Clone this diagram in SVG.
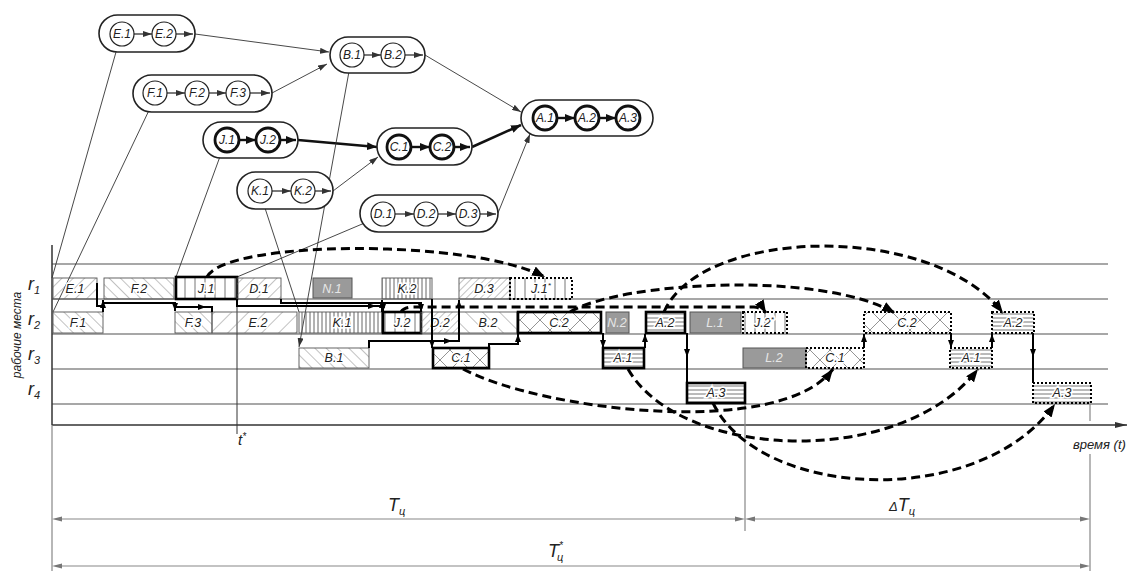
<svg xmlns="http://www.w3.org/2000/svg" width="1129" height="571" viewBox="0 0 1129 571">
<style>
.grid{stroke:#8a8a8a;stroke-width:1.3;fill:none}
.pill{fill:#fff;stroke:#222;stroke-width:1.6}
.c{fill:#fff;stroke:#222;stroke-width:1.2}
.ct{fill:#fff;stroke:#111;stroke-width:2.8}
.lbl{font-family:"Liberation Sans",Arial,sans-serif;font-style:italic;font-size:12px;text-anchor:middle;fill:#222}
.edge{stroke:#333;stroke-width:0.9;fill:none}
.edgeT{stroke:#111;stroke-width:2.6;fill:none}
.ia{stroke:#222;stroke-width:1.2;fill:none}
.iaT{stroke:#111;stroke-width:2.4;fill:none}
.bar{stroke:#555;stroke-width:0.9}
.barT{stroke:#000;stroke-width:2.6}
.barD{stroke:#000;stroke-width:2;stroke-dasharray:2 2}
.gray{fill:#9a9a9a;stroke:#555;stroke-width:1}
.flow{stroke:#000;stroke-width:2;fill:none}
.dash{stroke:#000;stroke-width:3;stroke-dasharray:9 5;fill:none}
.blbl{font-family:"Liberation Sans",Arial,sans-serif;font-style:italic;font-size:12.5px;text-anchor:middle;fill:#222;paint-order:stroke;stroke:#fff;stroke-width:3px}
.glbl{font-family:"Liberation Sans",Arial,sans-serif;font-style:italic;font-size:12.5px;text-anchor:middle;fill:#e6e6e6}
.dim{stroke:#888;stroke-width:1.2;fill:none}
.txt{font-family:"Liberation Sans",Arial,sans-serif;font-style:italic;fill:#222}
</style>
<defs>
<pattern id="hR8" width="8" height="8" patternUnits="userSpaceOnUse" patternTransform="rotate(45)"><line x1="0" y1="0" x2="0" y2="8" stroke="#777" stroke-width="0.9"/></pattern>
<pattern id="hR5" width="5" height="5" patternUnits="userSpaceOnUse" patternTransform="rotate(45)"><line x1="0" y1="0" x2="0" y2="5" stroke="#777" stroke-width="0.9"/></pattern>
<pattern id="hR12" width="12" height="12" patternUnits="userSpaceOnUse" patternTransform="rotate(45)"><line x1="0" y1="0" x2="0" y2="12" stroke="#777" stroke-width="0.9"/></pattern>
<pattern id="hL8" width="8" height="8" patternUnits="userSpaceOnUse" patternTransform="rotate(-45)"><line x1="0" y1="0" x2="0" y2="8" stroke="#777" stroke-width="0.9"/></pattern>
<pattern id="hL12" width="12" height="12" patternUnits="userSpaceOnUse" patternTransform="rotate(-45)"><line x1="0" y1="0" x2="0" y2="12" stroke="#777" stroke-width="0.9"/></pattern>
<pattern id="vD" width="4" height="10" patternUnits="userSpaceOnUse"><line x1="2" y1="0" x2="2" y2="10" stroke="#555" stroke-width="0.9"/></pattern>
<pattern id="vS" width="10" height="10" patternUnits="userSpaceOnUse"><line x1="5" y1="0" x2="5" y2="10" stroke="#666" stroke-width="0.9"/></pattern>
<pattern id="cx" width="20" height="20" patternUnits="userSpaceOnUse"><path d="M0,0 L20,20 M20,0 L0,20" stroke="#888" stroke-width="0.9" fill="none"/></pattern>
<pattern id="hz" width="10" height="4" patternUnits="userSpaceOnUse"><line x1="0" y1="2" x2="10" y2="2" stroke="#666" stroke-width="0.9"/></pattern>
<marker id="aS" markerUnits="userSpaceOnUse" markerWidth="9" markerHeight="6" refX="9" refY="3" orient="auto"><path d="M0,0 L9,3 L0,6 Z" fill="#333"/></marker>
<marker id="aT" markerUnits="userSpaceOnUse" markerWidth="10" markerHeight="8" refX="10" refY="4" orient="auto"><path d="M0,0 L10,4 L0,8 Z" fill="#111"/></marker>
<marker id="aF" markerUnits="userSpaceOnUse" markerWidth="8" markerHeight="6" refX="8" refY="3" orient="auto"><path d="M0,0 L8,3 L0,6 Z" fill="#000"/></marker>
<marker id="aD" markerUnits="userSpaceOnUse" markerWidth="13" markerHeight="10" refX="13" refY="5" orient="auto"><path d="M0,0 L13,5 L0,10 Z" fill="#000"/></marker>
<marker id="aX" markerUnits="userSpaceOnUse" markerWidth="12" markerHeight="6" refX="12" refY="3" orient="auto"><path d="M0,0 L12,3 L0,6 Z" fill="#333"/></marker>
</defs>

<!-- grid and axes -->
<g id="grid">
<path class="grid" d="M52,264 H1108 M52,299 H1108 M52,334 H1108 M52,369 H1108 M52,404 H1108"/>
<path d="M52,245 V425" stroke="#333" stroke-width="1.5" fill="none"/>
<path d="M52,425 H1127" stroke="#333" stroke-width="1.6" fill="none" marker-end="url(#aX)"/>
<path d="M237,278 V434" stroke="#333" stroke-width="1" fill="none"/>
<path class="dim" d="M52,425 V571 M745,400 V531 M1090,404 V421 M1090,454 V571"/>
</g>

<!-- graph connectors -->
<g id="connectors">
<path class="edge" d="M195,34 L329,52" marker-end="url(#aS)"/>
<path class="edge" d="M272,93 L327,64" marker-end="url(#aS)"/>
<path class="edge" d="M425,55 L521,112" marker-end="url(#aS)"/>
<path class="edgeT" d="M298,140 L377,147" marker-end="url(#aT)"/>
<path class="edge" d="M333,191 L378,157" marker-end="url(#aS)"/>
<path class="edgeT" d="M472,147 L521,125" marker-end="url(#aT)"/>
<path class="edge" d="M498,213 L530,134" marker-end="url(#aS)"/>
<path class="edge" d="M118,45 L52,278"/>
<path class="edge" d="M152,104 L53,312"/>
<path class="edge" d="M222,151 L176,277"/>
<path class="edge" d="M374,219 L237,277"/>
<path class="edge" d="M263,202 L299,312"/>
<path class="edge" d="M350,66 L299,347" marker-end="url(#aS)"/>
</g>

<!-- graph nodes -->
<g id="nodeE">
<rect class="pill" x="99" y="15" width="96" height="37" rx="18.5"/>
<circle class="c" cx="122" cy="34" r="12"/><circle class="c" cx="164" cy="34" r="12"/>
<path class="ia" d="M134,34 H152" marker-end="url(#aS)"/><path class="ia" d="M176,34 H193" marker-end="url(#aS)"/>
<text class="lbl" x="122" y="38">E.1</text><text class="lbl" x="164" y="38">E.2</text>
</g>
<g id="nodeB">
<rect class="pill" x="330" y="37" width="95" height="36" rx="18"/>
<circle class="c" cx="352" cy="55" r="12"/><circle class="c" cx="393" cy="55" r="12"/>
<path class="ia" d="M364,55 H381" marker-end="url(#aS)"/><path class="ia" d="M405,55 H423" marker-end="url(#aS)"/>
<text class="lbl" x="352" y="59">B.1</text><text class="lbl" x="393" y="59">B.2</text>
</g>
<g id="nodeF">
<rect class="pill" x="133" y="75" width="139" height="37" rx="18.5"/>
<circle class="c" cx="155" cy="93" r="12"/><circle class="c" cx="197" cy="93" r="12"/><circle class="c" cx="238" cy="93" r="12"/>
<path class="ia" d="M167,93 H185" marker-end="url(#aS)"/><path class="ia" d="M209,93 H226" marker-end="url(#aS)"/><path class="ia" d="M250,93 H270" marker-end="url(#aS)"/>
<text class="lbl" x="155" y="97">F.1</text><text class="lbl" x="197" y="97">F.2</text><text class="lbl" x="238" y="97">F.3</text>
</g>
<g id="nodeA">
<rect class="pill" x="521" y="100" width="132" height="36" rx="18"/>
<circle class="ct" cx="545" cy="118" r="12"/><circle class="ct" cx="587" cy="118" r="12"/><circle class="ct" cx="628" cy="118" r="12"/>
<path class="iaT" d="M557,118 H575" marker-end="url(#aT)"/><path class="iaT" d="M599,118 H616" marker-end="url(#aT)"/>
<text class="lbl" x="545" y="122">A.1</text><text class="lbl" x="587" y="122">A.2</text><text class="lbl" x="628" y="122">A.3</text>
</g>
<g id="nodeC">
<rect class="pill" x="377" y="128" width="95" height="37" rx="18.5"/>
<circle class="ct" cx="399" cy="147" r="12"/><circle class="ct" cx="442" cy="147" r="12"/>
<path class="iaT" d="M411,147 H430" marker-end="url(#aT)"/><path class="iaT" d="M454,147 H470" marker-end="url(#aT)"/>
<text class="lbl" x="399" y="151">C.1</text><text class="lbl" x="442" y="151">C.2</text>
</g>
<g id="nodeJ">
<rect class="pill" x="203" y="122" width="95" height="36" rx="18"/>
<circle class="ct" cx="227" cy="140" r="12"/><circle class="ct" cx="268" cy="140" r="12"/>
<path class="iaT" d="M239,140 H256" marker-end="url(#aT)"/><path class="iaT" d="M280,140 H296" marker-end="url(#aT)"/>
<text class="lbl" x="227" y="144">J.1</text><text class="lbl" x="268" y="144">J.2</text>
</g>
<g id="nodeK">
<rect class="pill" x="237" y="172" width="96" height="37" rx="18.5"/>
<circle class="c" cx="260" cy="191" r="12"/><circle class="c" cx="303" cy="191" r="12"/>
<path class="ia" d="M272,191 H291" marker-end="url(#aS)"/><path class="ia" d="M315,191 H331" marker-end="url(#aS)"/>
<text class="lbl" x="260" y="195">K.1</text><text class="lbl" x="303" y="195">K.2</text>
</g>
<g id="nodeD">
<rect class="pill" x="360" y="195" width="138" height="37" rx="18.5"/>
<circle class="c" cx="383" cy="214" r="12"/><circle class="c" cx="426" cy="214" r="12"/><circle class="c" cx="468" cy="214" r="12"/>
<path class="ia" d="M395,214 H414" marker-end="url(#aS)"/><path class="ia" d="M438,214 H456" marker-end="url(#aS)"/><path class="ia" d="M480,214 H496" marker-end="url(#aS)"/>
<text class="lbl" x="383" y="218">D.1</text><text class="lbl" x="426" y="218">D.2</text><text class="lbl" x="468" y="218">D.3</text>
</g>

<!-- Gantt bars -->
<g id="bars">
<rect class="bar" x="53" y="278" width="44" height="21" fill="url(#hR8)"/><text class="blbl" x="75" y="293">E.1</text>
<rect class="bar" x="104" y="278" width="70" height="21" fill="url(#hL8)"/><text class="blbl" x="139" y="293">F.2</text>
<rect class="barT" x="176" y="277" width="61" height="22" fill="url(#vS)"/><text class="blbl" x="206" y="293">J.1</text>
<rect class="bar" x="237" y="278" width="44" height="21" fill="url(#hR8)"/><text class="blbl" x="259" y="293">D.1</text>
<rect class="gray" x="313" y="278" width="39" height="20"/><text class="glbl" x="332" y="293">N.1</text>
<rect class="bar" x="382" y="278" width="50" height="21" fill="url(#vD)"/><text class="blbl" x="407" y="293">K.2</text>
<rect class="bar" x="459" y="278" width="51" height="21" fill="url(#hR5)"/><text class="blbl" x="484" y="293">D.3</text>
<rect class="barD" x="510" y="278" width="62" height="21" fill="url(#vS)"/><text class="blbl" x="541" y="293">J.1<tspan font-size="8" dy="-5">*</tspan></text>

<rect class="bar" x="53" y="312" width="50" height="21" fill="url(#hL8)"/><text class="blbl" x="78" y="327">F.1</text>
<rect class="bar" x="175" y="312" width="37" height="21" fill="url(#hL8)"/><text class="blbl" x="193" y="327">F.3</text>
<rect class="bar" x="212" y="312" width="85" height="21" fill="url(#hR12)"/><text class="blbl" x="258" y="327">E.2</text>
<rect class="bar" x="299" y="312" width="83" height="21" fill="url(#vD)"/><text class="blbl" x="342" y="327">K.1</text>
<rect class="barT" x="383" y="312" width="38" height="21" fill="url(#vS)"/><text class="blbl" x="402" y="327">J.2</text>
<rect class="bar" x="421" y="312" width="38" height="21" fill="url(#hR5)"/><text class="blbl" x="440" y="327">D.2</text>
<rect class="bar" x="459" y="312" width="58" height="21" fill="url(#hL12)"/><text class="blbl" x="488" y="327">B.2</text>
<rect class="barT" x="518" y="312" width="83" height="21" fill="url(#cx)"/><text class="blbl" x="559" y="327">C.2</text>
<rect class="gray" x="606" y="312" width="23" height="21"/><text class="glbl" x="617" y="327">N.2</text>
<rect class="barT" x="646" y="312" width="39" height="21" fill="url(#hz)"/><text class="blbl" x="665" y="327">A.2</text>
<rect class="gray" x="690" y="312" width="51" height="21"/><text class="glbl" x="715" y="327">L.1</text>
<rect class="barD" x="743" y="312" width="44" height="21" fill="url(#vS)"/><text class="blbl" x="764" y="327">J.2<tspan font-size="8" dy="-5">*</tspan></text>
<rect class="barD" x="864" y="312" width="87" height="21" fill="url(#cx)"/><text class="blbl" x="907" y="327">C.2</text>
<rect class="barD" x="992" y="312" width="42" height="21" fill="url(#hz)"/><text class="blbl" x="1013" y="327">A.2</text>

<rect class="bar" x="299" y="348" width="70" height="20" fill="url(#hL8)"/><text class="blbl" x="334" y="362">B.1</text>
<rect class="barT" x="433" y="348" width="56" height="20" fill="url(#cx)"/><text class="blbl" x="461" y="362">C.1</text>
<rect class="barT" x="603" y="348" width="41" height="20" fill="url(#hz)"/><text class="blbl" x="623" y="362">A.1</text>
<rect class="gray" x="743" y="348" width="63" height="20"/><text class="glbl" x="774" y="362">L.2</text>
<rect class="barD" x="806" y="348" width="58" height="20" fill="url(#cx)"/><text class="blbl" x="835" y="362">C.1</text>
<rect class="barD" x="950" y="348" width="42" height="20" fill="url(#hz)"/><text class="blbl" x="971" y="362">A.1</text>

<rect class="barT" x="687" y="383" width="58" height="20" fill="url(#hz)"/><text class="blbl" x="716" y="397">A.3</text>
<rect class="barD" x="1033" y="383" width="58" height="20" fill="url(#hz)"/><text class="blbl" x="1062" y="397">A.3</text>
</g>

<!-- flows between bars -->
<g id="flows">
<path class="flow" d="M103,312 V300" marker-end="url(#aF)"/>
<path class="flow" d="M97,283 V306 H103 V303 H175 V311" marker-end="url(#aF)"/>
<path class="flow" d="M175,307 H206" marker-end="url(#aF)"/>
<path class="flow" d="M206,307 H212 V312"/>
<path class="flow" d="M237,299 V306 H376" marker-end="url(#aF)"/>
<path class="flow" d="M376,306 H383 V312" marker-end="url(#aF)"/>
<path class="flow" d="M281,299 V303 H421 V312" marker-end="url(#aF)"/>
<path class="flow" d="M382,312 V300" marker-end="url(#aF)"/>
<path class="flow" d="M432,299 V348" marker-end="url(#aF)"/>
<path class="flow" d="M369,348 V341 H452" marker-end="url(#aF)"/>
<path class="flow" d="M452,341 H459 V300" marker-end="url(#aF)"/>
<path class="flow" d="M489,348 V344 H518 V334" marker-end="url(#aF)"/>
<path class="flow" d="M603,333 V348" marker-end="url(#aF)"/>
<path class="flow" d="M645,348 V334" marker-end="url(#aF)"/>
<path class="flow" d="M687,333 V357" marker-end="url(#aF)"/>
<path class="flow" d="M687,357 V383"/>
<path class="flow" d="M864,348 V334" marker-end="url(#aF)"/>
<path class="flow" d="M951,333 V348" marker-end="url(#aF)"/>
<path class="flow" d="M992,348 V334" marker-end="url(#aF)"/>
<path class="flow" d="M1033,333 V357" marker-end="url(#aF)"/>
<path class="flow" d="M1033,357 V383"/>
</g>

<!-- dashed transfer arrows -->
<g id="dashed">
<path class="dash" d="M207,277 C225,240 470,238 545,277" marker-end="url(#aD)"/>
<path class="dash" d="M401,312 Q404,307 414,307 L754,307 Q763,308 766,313" marker-end="url(#aD)"/>
<path class="dash" d="M570,312 C620,282 820,270 895,313" marker-end="url(#aD)"/>
<path class="dash" d="M664,312 C700,228 930,220 1003,313" marker-end="url(#aD)"/>
<path class="dash" d="M463,369 C540,410 780,440 833,369" marker-end="url(#aD)"/>
<path class="dash" d="M628,369 C680,460 900,470 978,369" marker-end="url(#aD)"/>
<path class="dash" d="M713,403 C760,500 980,510 1055,404" marker-end="url(#aD)"/>
</g>

<!-- dimensions -->
<g id="dimensions">
<path class="dim" d="M60,519 H737 M753,519 H1082 M60,566 H1082"/>
<path d="M62,516.5 L52,519 L62,521.5 Z M735,516.5 L745,519 L735,521.5 Z M755,516.5 L745,519 L755,521.5 Z M1080,516.5 L1090,519 L1080,521.5 Z M62,563.5 L52,566 L62,568.5 Z M1080,563.5 L1090,566 L1080,568.5 Z" fill="#777"/>
<text class="txt" x="388" y="511" font-size="18">T<tspan font-size="11" dy="4">ц</tspan></text>
<text class="txt" x="889" y="511" font-size="18"><tspan font-size="13">Δ</tspan>T<tspan font-size="11" dy="4">ц</tspan></text>
<text class="txt" x="548" y="557" font-size="18">T<tspan font-size="10" dy="-8">*</tspan><tspan font-size="11" dx="-6" dy="12">ц</tspan></text>
</g>

<!-- labels -->
<g id="labels">
<text class="txt" x="28" y="290" font-size="18">r<tspan font-size="11" dy="4">1</tspan></text>
<text class="txt" x="28" y="325" font-size="18">r<tspan font-size="11" dy="4">2</tspan></text>
<text class="txt" x="28" y="360" font-size="18">r<tspan font-size="11" dy="4">3</tspan></text>
<text class="txt" x="28" y="395" font-size="18">r<tspan font-size="11" dy="4">4</tspan></text>
<text class="txt" font-size="12" text-anchor="middle" transform="translate(21,335) rotate(-90)">рабочие места</text>
<text class="txt" x="1073" y="449" font-size="13">время (t)</text>
<text class="txt" x="238" y="445" font-size="15">t<tspan font-size="10" dy="-5">*</tspan></text>
</g>
</svg>
